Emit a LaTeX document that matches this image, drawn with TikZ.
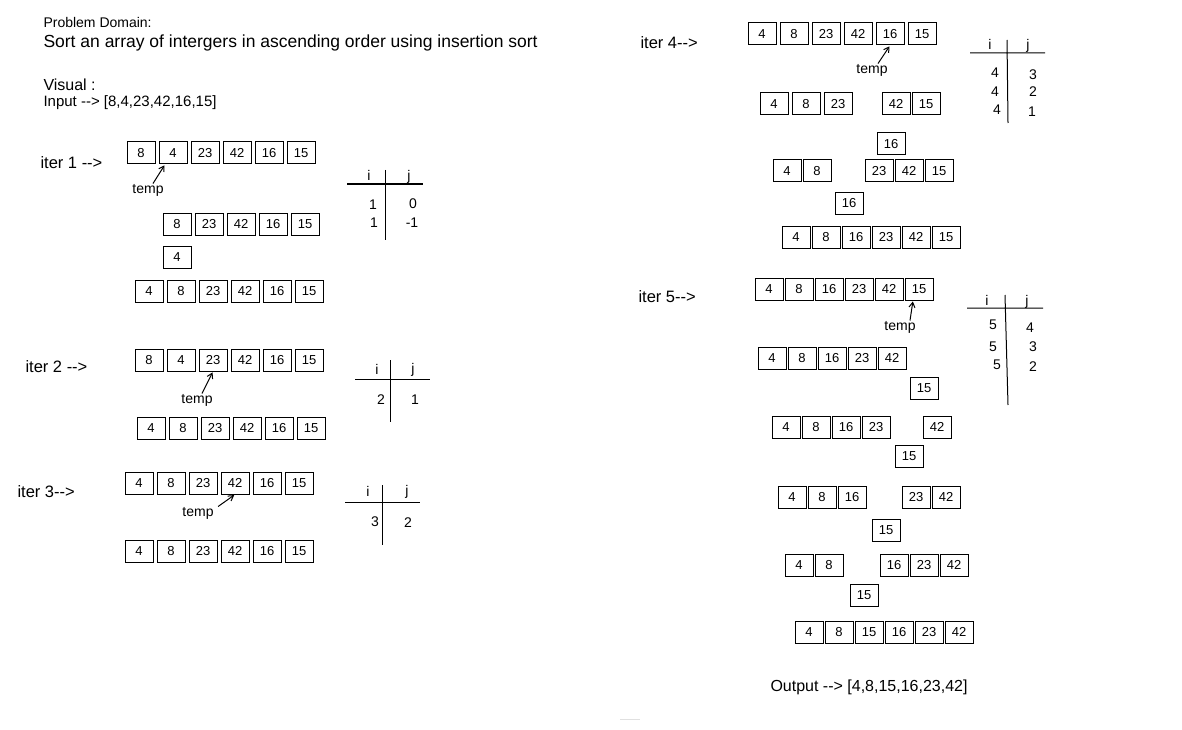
\documentclass[tikz,border=0pt]{standalone}
\usepackage{fontspec}
\setmainfont{Liberation Sans}
\usetikzlibrary{arrows.meta,positioning}

\begin{document}
\begin{tikzpicture}[x = 1pt, y = -1pt, node distance = 30pt, on grid, line width = 1pt, cell/.style = {draw, minimum width = 28pt, minimum height = 22pt, inner sep = 0pt, font = \fontsize{13}{14}\selectfont}, txt/.style = {anchor = west, inner sep = 0pt, font = \fontsize{15}{17}\selectfont}, tab/.style = {inner sep = 0pt, font = \fontsize{14}{16}\selectfont}, ptr/.style = {-{Straight Barb[length = 5pt, width = 6pt]}, shorten >= 1pt}]
\useasboundingbox (0,0) rectangle (1182,730);

% header
\node[txt, font = \fontsize{14}{16}\selectfont] (title) at (43,22) {Problem Domain:};
\node[txt, font = \fontsize{17.5}{19}\selectfont] (task) at (43,43) {Sort an array of intergers in ascending order using insertion sort};
\node[txt, font = \fontsize{16}{18}\selectfont] (visual) at (43,85) {Visual :};
\node[txt] (input) at (43,103) {Input -{}-> [8,4,23,42,16,15]};

\begin{scope}[node distance = 32pt]
% iter 1
\node[txt, font = \fontsize{16.5}{18}\selectfont] (it1) at (40,163) {iter 1 -{}->};
\node[cell] (i1a1) at (141,153) {8};
\node[cell, right = of i1a1] (i1a2) {4};
\node[cell, right = of i1a2] (i1a3) {23};
\node[cell, right = of i1a3] (i1a4) {42};
\node[cell, right = of i1a4] (i1a5) {16};
\node[cell, right = of i1a5] (i1a6) {15};
\node[tab] (t1) at (148,190) {temp};
\node[cell] (i1b1) at (177,224) {8};
\node[cell, right = of i1b1] (i1b2) {23};
\node[cell, right = of i1b2] (i1b3) {42};
\node[cell, right = of i1b3] (i1b4) {16};
\node[cell, right = of i1b4] (i1b5) {15};
\node[cell] (i1t) at (177,257) {4};
\node[cell] (i1c1) at (149,291) {4};
\node[cell, right = of i1c1] (i1c2) {8};
\node[cell, right = of i1c2] (i1c3) {23};
\node[cell, right = of i1c3] (i1c4) {42};
\node[cell, right = of i1c4] (i1c5) {16};
\node[cell, right = of i1c5] (i1c6) {15};
\path[ptr] ([xshift = 5pt]t1.north) edge ([xshift = -8pt]i1a2.south);
\draw (347,184) -- (423,184) (385,170) -- (385,240);
\node[tab] (h1i) at (369,175) {i};
\node[tab] (h1j) at (409,177) {j};
\node[tab] (r1i1) at (373,205) {1};
\node[tab] (r1j1) at (413,204) {0};
\node[tab] (r1i2) at (374,223) {1};
\node[tab] (r1j2) at (412,223) {-1};

% iter 2
\node[txt, font = \fontsize{16.5}{18}\selectfont] (it2) at (25,367) {iter 2 -{}->};
\node[cell] (i2a1) at (149,360) {8};
\node[cell, right = of i2a1] (i2a2) {4};
\node[cell, right = of i2a2] (i2a3) {23};
\node[cell, right = of i2a3] (i2a4) {42};
\node[cell, right = of i2a4] (i2a5) {16};
\node[cell, right = of i2a5] (i2a6) {15};
\node[tab] (t2) at (197,400) {temp};
\node[cell] (i2b1) at (151,428) {4};
\node[cell, right = of i2b1] (i2b2) {8};
\node[cell, right = of i2b2] (i2b3) {23};
\node[cell, right = of i2b3] (i2b4) {42};
\node[cell, right = of i2b4] (i2b5) {16};
\node[cell, right = of i2b5] (i2b6) {15};
\path[ptr] ([xshift = 5pt]t2.north) edge (i2a3.south);
\draw (355,379) -- (430,379) (390,360) -- (390,422);
\node[tab] (h2i) at (377,369) {i};
\node[tab] (h2j) at (413,370) {j};
\node[tab] (r2i1) at (381,400) {2};
\node[tab] (r2j1) at (415,400) {1};

% iter 3
\node[txt, font = \fontsize{16.5}{18}\selectfont] (it3) at (17,492) {iter 3-{}->};
\node[cell] (i3a1) at (139,483) {4};
\node[cell, right = of i3a1] (i3a2) {8};
\node[cell, right = of i3a2] (i3a3) {23};
\node[cell, right = of i3a3] (i3a4) {42};
\node[cell, right = of i3a4] (i3a5) {16};
\node[cell, right = of i3a5] (i3a6) {15};
\node[tab] (t3) at (198,513) {temp};
\node[cell] (i3b1) at (139,551) {4};
\node[cell, right = of i3b1] (i3b2) {8};
\node[cell, right = of i3b2] (i3b3) {23};
\node[cell, right = of i3b3] (i3b4) {42};
\node[cell, right = of i3b4] (i3b5) {16};
\node[cell, right = of i3b5] (i3b6) {15};
\path[ptr] ([xshift = 4pt]t3.north east) edge (i3a4.south);
\draw (345,502) -- (420,502) (382,485) -- (382,545);
\node[tab] (h3i) at (368,491) {i};
\node[tab] (h3j) at (407,492) {j};
\node[tab] (r3i1) at (375,522) {3};
\node[tab] (r3j1) at (408,523) {2};

% iter 4, first rows
\node[txt, font = \fontsize{16.5}{18}\selectfont] (it4) at (640,43) {iter 4-{}->};
\node[cell] (i4a1) at (762,34) {4};
\node[cell, right = of i4a1] (i4a2) {8};
\node[cell, right = of i4a2] (i4a3) {23};
\node[cell, right = of i4a3] (i4a4) {42};
\node[cell, right = of i4a4] (i4a5) {16};
\node[cell, right = of i4a5] (i4a6) {15};
\node[tab] (t4) at (872,70) {temp};
\node[cell] (i4b1) at (774,104) {4};
\node[cell, right = of i4b1] (i4b2) {8};
\node[cell, right = of i4b2] (i4b3) {23};
\end{scope}

\node[cell] (i4b4) at (896,104) {42};
\node[cell, right = of i4b4] (i4b5) {15};
\node[cell] (i4t) at (891,144) {16};
\node[cell] (i4c1) at (787,171) {4};
\node[cell, right = of i4c1] (i4c2) {8};
\node[cell] (i4c3) at (879,171) {23};
\node[cell, right = of i4c3] (i4c4) {42};
\node[cell, right = of i4c4] (i4c5) {15};
\node[cell] (i4u) at (849,203) {16};
\node[cell] (i4d1) at (796,237) {4};
\node[cell, right = of i4d1] (i4d2) {8};
\node[cell, right = of i4d2] (i4d3) {16};
\node[cell, right = of i4d3] (i4d4) {23};
\node[cell, right = of i4d4] (i4d5) {42};
\node[cell, right = of i4d5] (i4d6) {15};
\path[ptr] ([xshift = 6pt]t4.north) edge (i4a5.south);
\draw (970,53) -- (1045,53) (1007,40) -- (1008,123);
\node[tab] (h4i) at (990,44) {i};
\node[tab] (h4j) at (1028,46) {j};
\node[tab] (r4i1) at (995,73) {4};
\node[tab] (r4j1) at (1033,75) {3};
\node[tab] (r4i2) at (995,92) {4};
\node[tab] (r4j2) at (1033,92) {2};
\node[tab] (r4i3) at (997,110) {4};
\node[tab] (r4j3) at (1032,112) {1};

% iter 5
\node[txt, font = \fontsize{16.5}{18}\selectfont] (it5) at (638,297) {iter 5-{}->};
\node[cell] (i5a1) at (769,289) {4};
\node[cell, right = of i5a1] (i5a2) {8};
\node[cell, right = of i5a2] (i5a3) {16};
\node[cell, right = of i5a3] (i5a4) {23};
\node[cell, right = of i5a4] (i5a5) {42};
\node[cell, right = of i5a5] (i5a6) {15};
\node[tab] (t5) at (900,327) {temp};
\node[cell] (i5b1) at (772,358) {4};
\node[cell, right = of i5b1] (i5b2) {8};
\node[cell, right = of i5b2] (i5b3) {16};
\node[cell, right = of i5b3] (i5b4) {23};
\node[cell, right = of i5b4] (i5b5) {42};
\node[cell] (i5t) at (924,388) {15};
\node[cell] (i5c1) at (786,427) {4};
\node[cell, right = of i5c1] (i5c2) {8};
\node[cell, right = of i5c2] (i5c3) {16};
\node[cell, right = of i5c3] (i5c4) {23};
\node[cell] (i5c5) at (937,427) {42};
\node[cell] (i5u) at (909,456) {15};
\node[cell] (i5d1) at (792,497) {4};
\node[cell, right = of i5d1] (i5d2) {8};
\node[cell, right = of i5d2] (i5d3) {16};
\node[cell] (i5d4) at (916,497) {23};
\node[cell, right = of i5d4] (i5d5) {42};
\node[cell] (i5v) at (886,530) {15};
\node[cell] (i5e1) at (799,565) {4};
\node[cell, right = of i5e1] (i5e2) {8};
\node[cell] (i5e3) at (894,565) {16};
\node[cell, right = of i5e3] (i5e4) {23};
\node[cell, right = of i5e4] (i5e5) {42};
\node[cell] (i5w) at (864,595) {15};
\node[cell] (i5f1) at (809,632) {4};
\node[cell, right = of i5f1] (i5f2) {8};
\node[cell, right = of i5f2] (i5f3) {15};
\node[cell, right = of i5f3] (i5f4) {16};
\node[cell, right = of i5f4] (i5f5) {23};
\node[cell, right = of i5f5] (i5f6) {42};
\path[ptr] ([xshift = 10pt]t5.north) edge ([xshift = -6pt]i5a6.south);
\draw (967,308) -- (1043,308) (1005,295) -- (1008,405);
\node[tab] (h5i) at (987,300) {i};
\node[tab] (h5j) at (1027,302) {j};
\node[tab] (r5i1) at (993,325) {5};
\node[tab] (r5j1) at (1030,328) {4};
\node[tab] (r5i2) at (993,347) {5};
\node[tab] (r5j2) at (1033,347) {3};
\node[tab] (r5i3) at (997,365) {5};
\node[tab] (r5j3) at (1033,367) {2};

\node[txt, font = \fontsize{16}{18}\selectfont] (output) at (770,687) {Output -{}-> [4,8,15,16,23,42]};
\draw[black!12, line width = 1pt] (620,719) -- (640,719);
\end{tikzpicture}
\end{document}
